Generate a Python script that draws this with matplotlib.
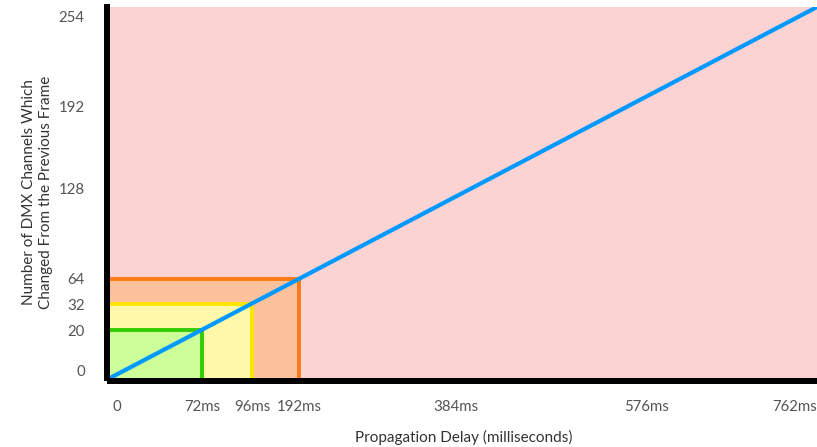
import numpy as np
import matplotlib
matplotlib.use("Agg")
import matplotlib.pyplot as plt
from matplotlib.patches import Rectangle
import matplotlib.transforms as mtransforms

# ---- data ----
delay_ticks = [0, 72, 96, 192, 384, 576, 762]          # ms
delay_labels = ["0", "72ms", "96ms", "192ms", "384ms", "576ms", "762ms"]
channel_ticks = [0, 20, 32, 64, 128, 192, 254]
channel_labels = ["0", "20", "32", "64", "128", "192", "254"]

# threshold boxes: (max delay ms, channels)
box_delays = [192, 96, 72]
box_channels = [64, 32, 20]
box_fill = ["#fdc29b", "#fff8ab", "#ccff99"]
box_edge = ["#ff7a12", "#ffe600", "#33cc00"]

line_delay = [0, 762]
line_channels = [0, 254]

# ---- non-uniform axis scales (illustrative spacing of the original) ----
x_knots_val = np.array([0, 72, 96, 192, 384, 576, 762], float)
x_knots_pos = np.array([0, 92, 142, 189, 346, 537, 707], float)
y_knots_val = np.array([0, 20, 32, 64, 128, 192, 254], float)
y_knots_pos = np.array([0, 48, 74, 99, 190, 272, 371], float)

def xf(v): return np.interp(v, x_knots_val, x_knots_pos)
def xi(p): return np.interp(p, x_knots_pos, x_knots_val)
def yf(v): return np.interp(v, y_knots_val, y_knots_pos)
def yi(p): return np.interp(p, y_knots_pos, y_knots_val)

fig = plt.figure(figsize=(8.17, 4.47), dpi=100)
ax = fig.add_axes([110/817, 69/447, 707/817, 371/447])
ax.set_xscale('function', functions=(xf, xi))
ax.set_yscale('function', functions=(yf, yi))
ax.set_xlim(0, 762)
ax.set_ylim(0, 254)
ax.set_facecolor("#fbd3d3")

for d, c, fc, ec in zip(box_delays, box_channels, box_fill, box_edge):
    ax.add_patch(Rectangle((0, 0), d, c, facecolor=fc, edgecolor='none', zorder=2))
    ax.plot([0, d, d], [c, c, 0], color=ec, linewidth=2.8, zorder=2.5,
            solid_joinstyle='miter', solid_capstyle='butt')

ax.plot(line_delay, line_channels, color="#0099ff", linewidth=3.0,
        solid_capstyle='butt', zorder=4, clip_on=True)

for s in ['top', 'right']:
    ax.spines[s].set_visible(False)
for s in ['left', 'bottom']:
    ax.spines[s].set_linewidth(4.32)
    ax.spines[s].set_color('black')
    ax.spines[s].set_position(('outward', 2.16))
    ax.spines[s].set_capstyle('projecting')
    ax.spines[s].set_zorder(5)

font = "Lato"
ax.set_xticks(delay_ticks)
ax.set_xticklabels(delay_labels)
ax.set_yticks(channel_ticks)
ax.set_yticklabels(channel_labels)
ax.minorticks_off()
ax.tick_params(axis='both', length=0, labelsize=10.8, labelcolor="#555555")
ax.tick_params(axis='x', pad=14)
ax.tick_params(axis='y', pad=16)
for t in ax.get_xticklabels() + ax.get_yticklabels():
    t.set_fontfamily(font)

xl = ax.get_xticklabels()
xl[0].set_transform(xl[0].get_transform() + mtransforms.ScaledTranslation(7/100, 0, fig.dpi_scale_trans))
xl[-1].set_horizontalalignment('right')
yl = ax.get_yticklabels()
yl[0].set_transform(yl[0].get_transform() + mtransforms.ScaledTranslation(0, 8/100, fig.dpi_scale_trans))
yl[-1].set_transform(yl[-1].get_transform() + mtransforms.ScaledTranslation(0, -10/100, fig.dpi_scale_trans))

ax.set_xlabel("Propagation Delay (milliseconds)", fontsize=11, color="#333333",
              fontfamily=font, labelpad=11)
ax.set_ylabel("Number of DMX Channels Which\nChanged From the Previous Frame",
              fontsize=11, color="#333333", fontfamily=font, labelpad=4,
              linespacing=1.3)

fig.savefig("out.png", dpi=100)
